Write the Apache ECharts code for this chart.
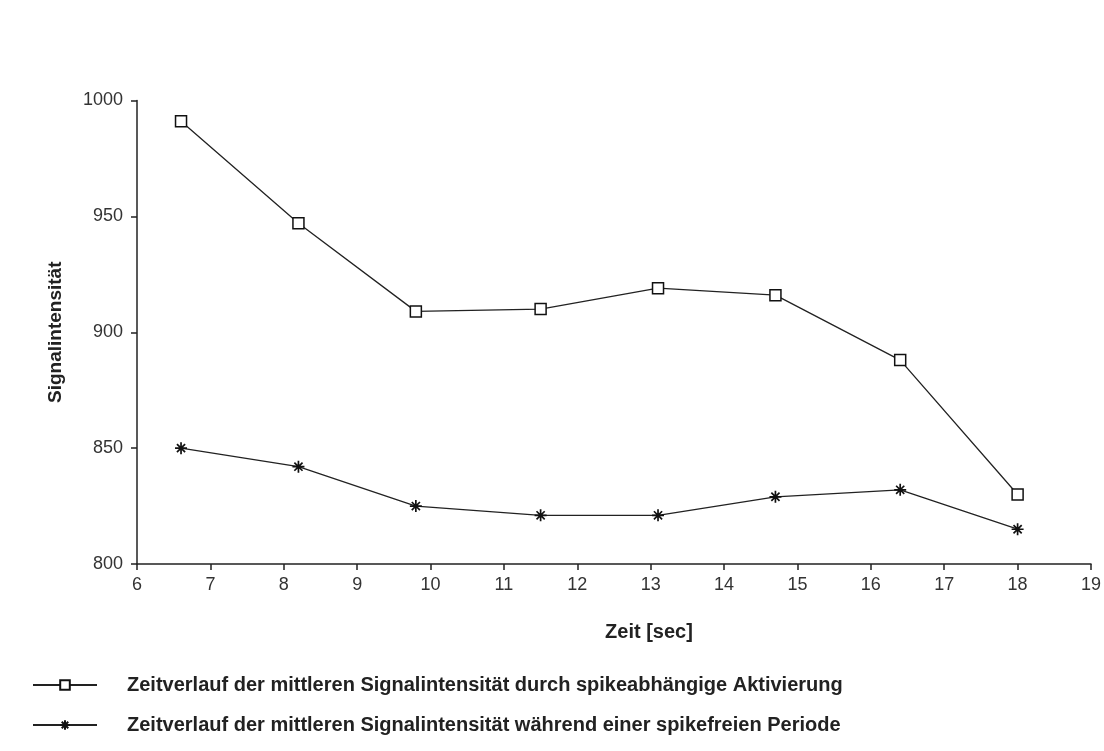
<!DOCTYPE html>
<html>
<head>
<meta charset="utf-8">
<script src="https://cdn.jsdelivr.net/npm/echarts@6/dist/echarts.min.js"></script>
<style>
  html, body { margin: 0; padding: 0; background: #ffffff; }
  #chart { width: 1104px; height: 751px; }
</style>
</head>
<body>
<div id="chart"></div>
<script>
// ---- data ----
const timeSec = [6.6, 8.2, 9.8, 11.5, 13.1, 14.7, 16.4, 18.0];
const activation = [991, 947, 909, 910, 919, 916, 888, 830];
const spikeFree = [850, 842, 825, 821, 821, 829, 832, 815];
const seriesNames = [
  'Zeitverlauf der mittleren Signalintensität durch spikeabhängige Aktivierung',
  'Zeitverlauf der mittleren Signalintensität während einer spikefreien Periode'
];
const xAxisName = 'Zeit [sec]';
const yAxisName = 'Signalintensität';

const pairs = (xs, ys) => xs.map((x, i) => [x, ys[i]]);
const asterisk = 'path://M5,0L5,10M0,5L10,5M1.6,1.6L8.4,8.4M1.6,8.4L8.4,1.6';
const labelFont = 'Liberation Sans, Arial, sans-serif';
const boldFont = '"Liberation Sans", Arial, sans-serif';

const chart = echarts.init(document.getElementById('chart'), null, { renderer: 'canvas' });
chart.setOption({
  backgroundColor: '#ffffff',
  animation: false,
  grid: { left: 137, right: 9, top: 100.5, bottom: 187, containLabel: false },
  xAxis: {
    type: 'value', min: 6, max: 19, interval: 1,
    name: xAxisName, nameLocation: 'middle', nameGap: 58,
    nameTextStyle: { fontFamily: boldFont, fontWeight: 'bold', fontSize: 20, color: '#222',
                     padding: [0, 0, 0, 70] },
    axisLine: { show: true, onZero: false, lineStyle: { color: '#222', width: 1.5 } },
    axisTick: { show: true, inside: false, length: 6, lineStyle: { color: '#222', width: 1.5 } },
    axisLabel: { margin: 12, fontFamily: labelFont, fontSize: 18, color: '#333', showMaxLabel: true,
                 formatter: v => String(v) },
    splitLine: { show: false }
  },
  yAxis: {
    type: 'value', min: 800, max: 1000, interval: 50,
    name: yAxisName, nameLocation: 'middle', nameGap: 72, nameRotate: 90,
    nameTextStyle: { fontFamily: boldFont, fontWeight: 'bold', fontSize: 19, color: '#222' },
    axisLine: { show: true, onZero: false, lineStyle: { color: '#222', width: 1.5 } },
    axisTick: { show: true, inside: false, length: 6, lineStyle: { color: '#222', width: 1.5 } },
    axisLabel: { margin: 14, fontFamily: labelFont, fontSize: 18, color: '#333',
                 formatter: v => String(v) },
    splitLine: { show: false }
  },
  legend: {
    left: 27, top: 669, orient: 'vertical',
    itemWidth: 64, itemHeight: 12, itemGap: 18,
    data: seriesNames,
    textStyle: { fontFamily: boldFont, fontWeight: 'bold', fontSize: 20, color: '#222',
                 lineHeight: 22, padding: [0, 0, 0, 25] }
  },
  series: [
    {
      name: seriesNames[0], type: 'line', data: pairs(timeSec, activation),
      symbol: 'rect', symbolSize: 11, showAllSymbol: true,
      lineStyle: { color: '#222', width: 1.3 },
      itemStyle: { color: '#ffffff', borderColor: '#111', borderWidth: 1.5 }
    },
    {
      name: seriesNames[1], type: 'line', data: pairs(timeSec, spikeFree),
      symbol: asterisk, symbolSize: 12, showAllSymbol: true,
      lineStyle: { color: '#222', width: 1.3 },
      itemStyle: { color: '#111', borderColor: '#111', borderWidth: 1.7 }
    }
  ]
});
</script>
</body>
</html>
